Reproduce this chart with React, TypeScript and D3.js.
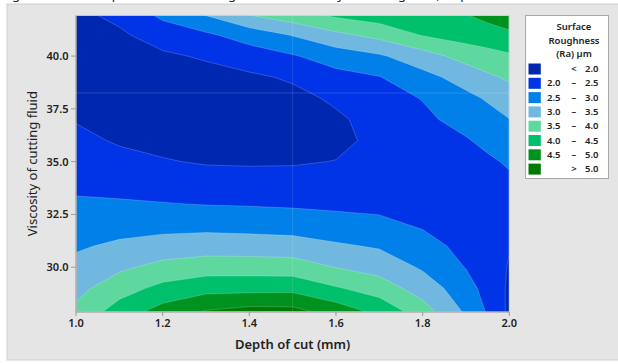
import React from "react";
import * as d3 from "d3";

// grid: depth of cut (columns) x viscosity (rows)
const depthOfCut = [1.0, 1.1, 1.2, 1.3, 1.4, 1.5, 1.6, 1.7, 1.8, 1.9, 1.95, 2.0];
const viscosity = [27.88, 29, 30, 31, 32, 33, 34, 35, 36, 37, 38, 39, 40, 41, 41.93];
const roughness = [
  [3.62, 4.24, 4.71, 5.05, 5.2, 5.18, 4.81, 4.38, 3.74, 2.93, 2.45, 1.9],
  [3.35, 3.79, 4.14, 4.33, 4.34, 4.35, 4.05, 3.76, 3.27, 2.72, 2.3, 1.93],
  [3.14, 3.41, 3.65, 3.76, 3.76, 3.74, 3.49, 3.31, 2.94, 2.48, 2.22, 1.97],
  [2.94, 3.09, 3.21, 3.27, 3.25, 3.22, 3.07, 2.95, 2.68, 2.36, 2.18, 2.02],
  [2.75, 2.81, 2.84, 2.85, 2.82, 2.78, 2.69, 2.61, 2.45, 2.3, 2.18, 2.15],
  [2.56, 2.55, 2.52, 2.48, 2.46, 2.43, 2.4, 2.38, 2.35, 2.27, 2.22, 2.28],
  [2.4, 2.34, 2.27, 2.21, 2.18, 2.17, 2.21, 2.22, 2.29, 2.28, 2.3, 2.41],
  [2.26, 2.14, 2.03, 1.96, 1.95, 1.96, 2.01, 2.12, 2.27, 2.35, 2.42, 2.56],
  [2.12, 1.95, 1.88, 1.82, 1.82, 1.84, 1.9, 2.1, 2.31, 2.46, 2.62, 2.77],
  [1.97, 1.85, 1.8, 1.76, 1.76, 1.8, 1.93, 2.16, 2.4, 2.67, 2.83, 2.99],
  [1.88, 1.8, 1.77, 1.76, 1.78, 1.87, 2.07, 2.3, 2.52, 2.88, 3.05, 3.27],
  [1.84, 1.8, 1.8, 1.82, 1.92, 2.06, 2.34, 2.48, 2.84, 3.2, 3.41, 3.58],
  [1.84, 1.83, 1.92, 2.06, 2.25, 2.46, 2.73, 2.94, 3.29, 3.69, 3.83, 3.93],
  [1.86, 1.92, 2.23, 2.42, 2.72, 3.03, 3.39, 3.65, 4.03, 4.22, 4.28, 4.4],
  [1.88, 2.12, 2.6, 3.01, 3.49, 3.79, 4.08, 4.25, 4.4, 4.48, 4.64, 4.8],
];

const levels = [2.0, 2.5, 3.0, 3.5, 4.0, 4.5, 5.0];
const bandColors = [
  "#0027b0",
  "#0034e6",
  "#0080e8",
  "#70b8e0",
  "#5fd8a0",
  "#00c06c",
  "#00921f",
  "#007a00",
];
const xTicks = [1.0, 1.2, 1.4, 1.6, 1.8, 2.0];
const yTicks = [30.0, 32.5, 35.0, 37.5, 40.0];

const W = 618;
const H = 364;
const font = "'Noto Sans', 'Open Sans', sans-serif";

export default function App() {
  const x = d3.scaleLinear().domain([1, 2]).range([76, 509.3]);
  const y = d3.scaleLinear().domain([27.88, 41.93]).range([312, 15.3]);
  const [x0, x1] = x.range();
  const [y0, y1] = y.range();

  const nx = depthOfCut.length;
  const ny = viscosity.length;
  // grid index -> data value (grid is not evenly spaced)
  const gx = d3.scaleLinear().domain(d3.range(nx)).range(depthOfCut).clamp(true);
  const gy = d3.scaleLinear().domain(d3.range(ny)).range(viscosity).clamp(true);

  const bands = d3.contours().size([nx, ny]).thresholds(levels)(roughness.flat());
  const path = d3.geoPath();
  const shapes = bands.map((b) => ({
    value: b.value,
    d: path({
      type: "MultiPolygon",
      coordinates: b.coordinates.map((poly) =>
        poly.map((ring) =>
          ring.map(([a, c]) => [x(gx(a - 0.5)), y(gy(c - 0.5))])
        )
      ),
    } as any),
  }));

  const legendX = 525;
  const legendY = 15;
  const rowY = (i: number) => 63.5 + i * 14.3;

  return (
    <svg
      width={W}
      height={H}
      style={{ position: "absolute", left: 0, top: 0, fontFamily: font }}
    >
      <rect width={W} height={H} fill="#fff" />
      {/* caption of the figure, cut off at the top like in the source */}
      <text x={2} y={-1.5} fontSize={13} fill="#222">
        Figure 4: Contour plot of Surface Roughness vs Viscosity of cutting fluid, Depth of cut
      </text>
      <rect x={7} y={4} width={W} height={356} fill="#e5e5e5" stroke="#cfcfcf" />

      <defs>
        <clipPath id="plot-clip">
          <rect x={x0} y={y1} width={x1 - x0} height={y0 - y1} />
        </clipPath>
      </defs>

      <g clipPath="url(#plot-clip)">
        <rect x={x0} y={y1} width={x1 - x0} height={y0 - y1} fill={bandColors[0]} />
        {shapes.map((s, i) => (
          <path key={i} d={s.d || ""} fill={bandColors[i + 1]} />
        ))}
        {shapes.map((s, i) => (
          <path
            key={"l" + i}
            d={s.d || ""}
            fill="none"
            stroke="#fff"
            strokeOpacity={0.28}
            strokeWidth={0.7}
          />
        ))}
        <line x1={x(1.5)} x2={x(1.5)} y1={y1} y2={y0} stroke="#fff" strokeOpacity={0.12} />
        <line x1={x0} x2={x1} y1={y(38.25)} y2={y(38.25)} stroke="#fff" strokeOpacity={0.15} />
      </g>
      <rect
        x={x0}
        y={y1}
        width={x1 - x0}
        height={y0 - y1}
        fill="none"
        stroke="#d8d8d8"
      />

      {/* axes */}
      <line x1={x0} x2={x1} y1={y0} y2={y0} stroke="#9a9a9a" />
      <line x1={x0} x2={x0} y1={y0} y2={y1} stroke="#9a9a9a" />
      {xTicks.map((t) => (
        <g key={t}>
          <line x1={x(t)} x2={x(t)} y1={y0} y2={y0 + 4} stroke="#9a9a9a" />
          <text
            x={x(t)}
            y={327}
            textAnchor="middle"
            fontSize={11}
            fontWeight={600}
            fill="#222"
          >
            {t.toFixed(1)}
          </text>
        </g>
      ))}
      {yTicks.map((t) => (
        <g key={t}>
          <line x1={x0 - 5} x2={x0} y1={y(t)} y2={y(t)} stroke="#9a9a9a" />
          <text
            x={68.5}
            y={y(t) + 4}
            textAnchor="end"
            fontSize={11}
            fontWeight={600}
            fill="#222"
          >
            {t.toFixed(1)}
          </text>
        </g>
      ))}
      <text
        x={(x0 + x1) / 2}
        y={349}
        textAnchor="middle"
        fontSize={13}
        fontWeight={600}
        fill="#222"
      >
        Depth of cut (mm)
      </text>
      <text
        transform={`translate(37,${(y0 + y1) / 2}) rotate(-90)`}
        textAnchor="middle"
        fontSize={13}
        fill="#222"
      >
        Viscosity of cutting fluid
      </text>

      {/* legend */}
      <rect
        x={legendX + 0.5}
        y={legendY + 0.5}
        width={83}
        height={163}
        fill="#fff"
        stroke="#a8a8a8"
      />
      {["Surface", "Roughness", "(Ra) µm"].map((s, i) => (
        <text
          key={s}
          x={574}
          y={30 + i * 13.6}
          textAnchor="middle"
          fontSize={9.5}
          fontWeight={600}
          fill="#222"
        >
          {s}
        </text>
      ))}
      {bandColors.map((c, i) => {
        const lo = i === 0 ? null : levels[i - 1];
        const hi = i === levels.length ? null : levels[i];
        const ty = rowY(i) + 8.5;
        return (
          <g key={c} fontSize={9.5} fontWeight={600} fill="#222">
            <rect x={528.5} y={rowY(i)} width={12.3} height={11} fill={c} />
            {lo !== null && hi !== null && (
              <>
                <text x={547} y={ty}>{lo.toFixed(1)}</text>
                <text x={574} y={ty} textAnchor="middle">–</text>
                <text x={585} y={ty}>{hi.toFixed(1)}</text>
              </>
            )}
            {lo === null && (
              <>
                <text x={574} y={ty} textAnchor="middle">{"<"}</text>
                <text x={585} y={ty}>{(hi as number).toFixed(1)}</text>
              </>
            )}
            {hi === null && (
              <>
                <text x={574} y={ty} textAnchor="middle">{">"}</text>
                <text x={585} y={ty}>{lo.toFixed(1)}</text>
              </>
            )}
          </g>
        );
      })}
    </svg>
  );
}
